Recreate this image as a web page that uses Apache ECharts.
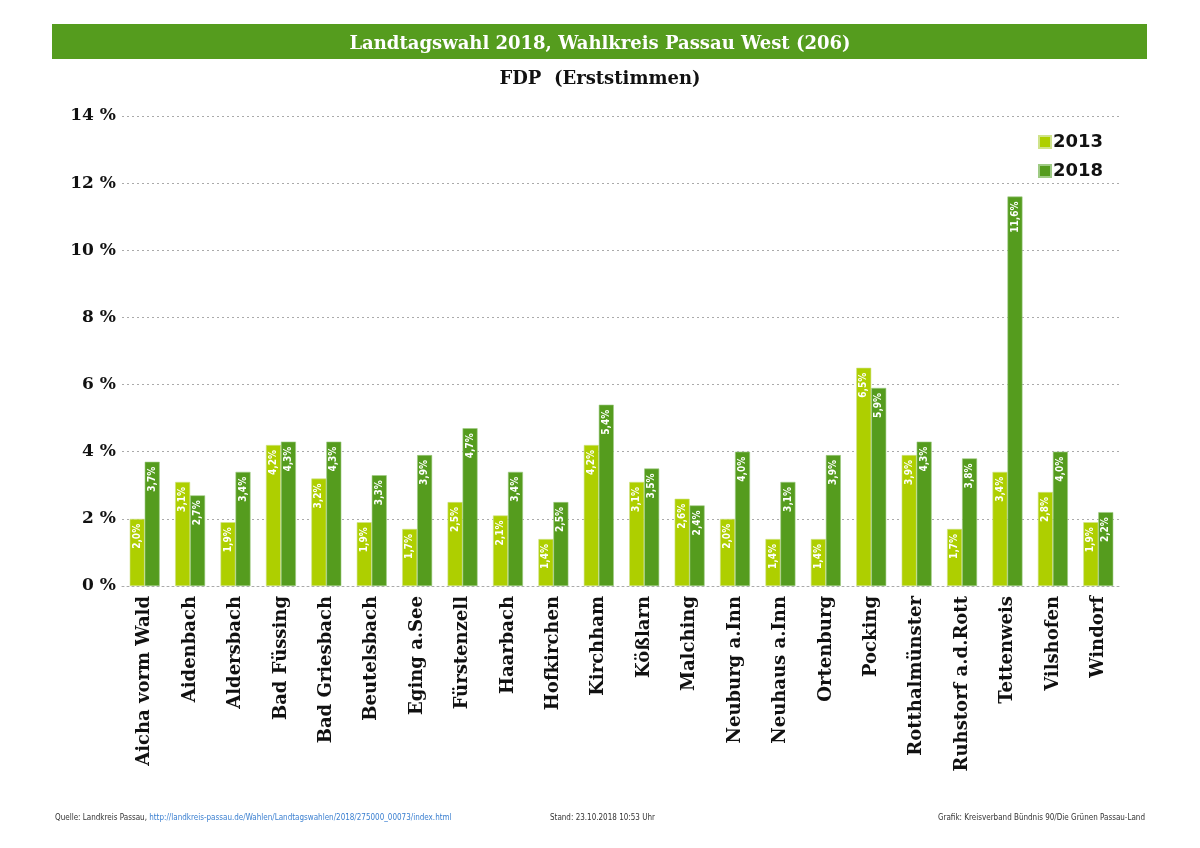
<!DOCTYPE html>
<html>
<head>
<meta charset="utf-8">
<script src="https://cdn.jsdelivr.net/npm/echarts@6/dist/echarts.min.js"></script>
<style>
  html, body { margin: 0; padding: 0; background: #fff; }
  #chart { width: 1200px; height: 848px; }
</style>
</head>
<body>
<div id="chart"></div>
<script>
var GEMEINDEN = ['Aicha vorm Wald', 'Aidenbach', 'Aldersbach', 'Bad Füssing', 'Bad Griesbach', 'Beutelsbach',
  'Eging a.See', 'Fürstenzell', 'Haarbach', 'Hofkirchen', 'Kirchham', 'Kößlarn', 'Malching', 'Neuburg a.Inn',
  'Neuhaus a.Inn', 'Ortenburg', 'Pocking', 'Rotthalmünster', 'Ruhstorf a.d.Rott', 'Tettenweis', 'Vilshofen', 'Windorf'];
var WERTE_2013 = [2.0, 3.1, 1.9, 4.2, 3.2, 1.9, 1.7, 2.5, 2.1, 1.4, 4.2, 3.1, 2.6, 2.0, 1.4, 1.4, 6.5, 3.9, 1.7, 3.4, 2.8, 1.9];
var WERTE_2018 = [3.7, 2.7, 3.4, 4.3, 4.3, 3.3, 3.9, 4.7, 3.4, 2.5, 5.4, 3.5, 2.4, 4.0, 3.1, 3.9, 5.9, 4.3, 3.8, 11.6, 4.0, 2.2];
var Y_TICKS = [0, 2, 4, 6, 8, 10, 12, 14];

var FONT = 'DejaVu Serif';
var SMALL = 'DejaVu Sans Condensed';
var GREEN_LIGHT = '#aecf00';
var GREEN_DARK = '#559c1e';

function pct(v) {
  return v.toFixed(1).replace('.', ',') + '%';
}

var barLabel = {
  show: true,
  position: 'insideTop',
  rotate: 90,
  align: 'right',
  verticalAlign: 'middle',
  distance: 5,
  color: '#fff',
  fontFamily: SMALL,
  fontWeight: 'bold',
  fontSize: 10,
  formatter: function (p) { return pct(p.value); }
};

var footStyle = { fontFamily: SMALL, fontSize: 8, color: '#333', fontWeight: 'normal' };

var chart = echarts.init(document.getElementById('chart'), null, { renderer: 'canvas' });
chart.setOption({
  backgroundColor: '#fff',
  animation: false,
  textStyle: { fontFamily: FONT },
  graphic: [{
    type: 'rect', z: 0,
    shape: { x: 52, y: 24, width: 1095, height: 35 },
    style: { fill: GREEN_DARK }
  }],
  title: [
    {
      text: 'Landtagswahl 2018, Wahlkreis Passau West (206)',
      left: 'center', top: 30,
      textStyle: { color: '#fff', fontFamily: FONT, fontWeight: 'bold', fontSize: 18 }
    },
    {
      text: 'FDP  (Erststimmen)',
      left: 'center', top: 65,
      textStyle: { color: '#111', fontFamily: FONT, fontWeight: 'bold', fontSize: 18 }
    },
    {
      text: '{k|Quelle: Landkreis Passau, }{u|http://landkreis-passau.de/Wahlen/Landtagswahlen/2018/275000_00073/index.html}',
      left: 50, top: 809,
      textStyle: {
        fontWeight: 'normal',
        rich: {
          k: footStyle,
          u: { fontFamily: SMALL, fontSize: 8, color: '#3a7fd0', fontWeight: 'normal' }
        }
      }
    },
    { text: 'Stand: 23.10.2018 10:53 Uhr', left: 545, top: 809, textStyle: footStyle },
    { text: 'Grafik: Kreisverband Bündnis 90/Die Grünen Passau-Land', right: 50, top: 809, textStyle: footStyle }
  ],
  legend: {
    orient: 'vertical',
    left: 1033, top: 128,
    itemWidth: 12, itemHeight: 12, itemGap: 11,
    icon: 'rect',
    textStyle: { fontFamily: 'DejaVu Sans', fontWeight: 'bold', fontSize: 18, color: '#111', padding: [0, 0, 0, -3] },
    data: ['2013', '2018']
  },
  grid: { left: 122, right: 79, top: 116, bottom: 262, containLabel: false },
  xAxis: {
    type: 'category',
    data: GEMEINDEN,
    axisLine: { lineStyle: { color: '#aaa', type: [2, 3], width: 1 } },
    axisTick: { show: false },
    axisLabel: {
      rotate: 90, interval: 0, margin: 10,
      fontFamily: FONT, fontWeight: 'bold', fontSize: 18, color: '#111'
    }
  },
  yAxis: {
    type: 'value',
    min: Y_TICKS[0], max: Y_TICKS[Y_TICKS.length - 1], interval: 2,
    axisLine: { show: false },
    axisTick: { show: false },
    splitLine: { lineStyle: { color: '#aaa', type: [2, 3], width: 1 } },
    axisLabel: {
      margin: 6,
      fontFamily: FONT, fontWeight: 'bold', fontSize: 17, color: '#111',
      formatter: '{value} %'
    }
  },
  series: [
    {
      name: '2013', type: 'bar', data: WERTE_2013,
      barGap: '0%', barCategoryGap: '34%',
      itemStyle: { color: GREEN_LIGHT, borderColor: '#cfe38a', borderWidth: 0.6 },
      label: barLabel
    },
    {
      name: '2018', type: 'bar', data: WERTE_2018,
      itemStyle: { color: GREEN_DARK, borderColor: '#9fcb84', borderWidth: 0.6 },
      label: barLabel
    }
  ]
});
</script>
</body>
</html>
